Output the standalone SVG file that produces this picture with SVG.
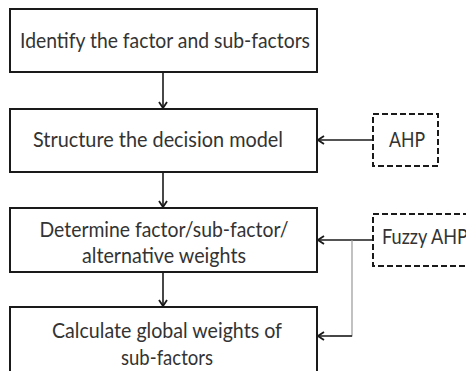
<svg xmlns="http://www.w3.org/2000/svg" width="466" height="371" viewBox="0 0 466 371">
<defs>
<style>
.box{fill:#fff;stroke:#1a1a1a;stroke-width:2}
.dash{fill:#fff;stroke:#1a1a1a;stroke-width:2;stroke-dasharray:6 3}
.t{font-family:Lato,"Liberation Sans",sans-serif;font-size:21px;fill:#333;text-anchor:middle}
.c{fill:none;stroke:#1a1a1a;stroke-width:1.6}
.g{fill:none;stroke:#999;stroke-width:1.2}
</style>
<marker id="ah" viewBox="0 0 10 10" refX="9" refY="5" markerWidth="10" markerHeight="10" markerUnits="userSpaceOnUse" orient="auto">
<path d="M3,1 L9,5 L3,9" fill="none" stroke="#1a1a1a" stroke-width="1.8"/>
</marker>
</defs>
<g id="n1"><rect class="box" x="10" y="9" width="307" height="63"/><text class="t" x="165" y="48" textLength="290" lengthAdjust="spacingAndGlyphs">Identify the factor and sub-factors</text></g>
<g id="n2"><rect class="box" x="10" y="109" width="307" height="63"/><text class="t" x="158" y="147" textLength="250" lengthAdjust="spacingAndGlyphs">Structure the decision model</text></g>
<g id="n3"><rect class="box" x="10" y="208" width="307" height="64"/><text class="t" x="164" y="237" textLength="249" lengthAdjust="spacingAndGlyphs">Determine factor/sub-factor/</text><text class="t" x="164" y="263" textLength="164" lengthAdjust="spacingAndGlyphs">alternative weights</text></g>
<g id="n4"><rect class="box" x="10" y="307" width="307" height="80"/><text class="t" x="167" y="338" textLength="230" lengthAdjust="spacingAndGlyphs">Calculate global weights of</text><text class="t" x="167" y="365" textLength="92" lengthAdjust="spacingAndGlyphs">sub-factors</text></g>
<g id="ahp"><rect class="dash" x="373" y="114" width="65" height="52"/><text class="t" x="407" y="147" textLength="36" lengthAdjust="spacingAndGlyphs">AHP</text></g>
<g id="fuzzy"><rect class="dash" x="373" y="214" width="110" height="52"/><text class="t" x="382" y="244" style="text-anchor:start" textLength="86" lengthAdjust="spacingAndGlyphs">Fuzzy AHP</text></g>
<g id="connectors">
<line class="c" x1="163" y1="72" x2="163" y2="108" marker-end="url(#ah)"/>
<line class="c" x1="163" y1="172" x2="163" y2="207" marker-end="url(#ah)"/>
<line class="c" x1="163" y1="272" x2="163" y2="306" marker-end="url(#ah)"/>
<line class="c" x1="373" y1="140" x2="318" y2="140" marker-end="url(#ah)"/>
<line class="c" x1="373" y1="240" x2="318" y2="240" marker-end="url(#ah)"/>
<polyline class="g" points="352,240 352,336 330,336"/>
<line class="c" x1="352" y1="336" x2="318" y2="336" marker-end="url(#ah)"/>
</g>
</svg>
